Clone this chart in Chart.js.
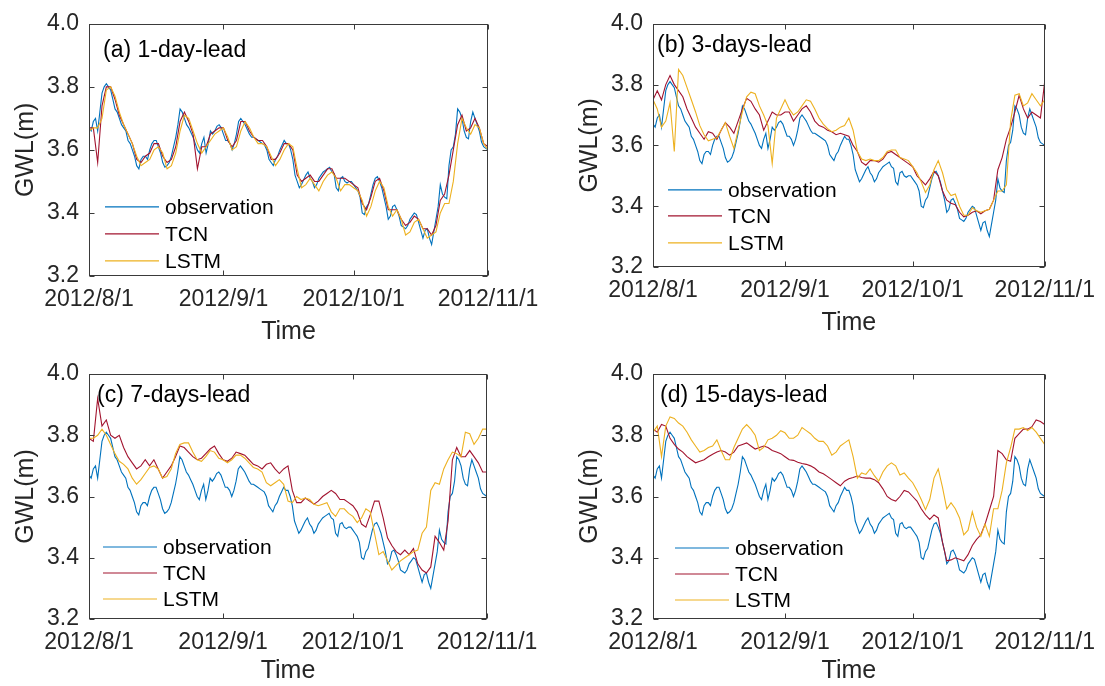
<!DOCTYPE html>
<html><head><meta charset="utf-8">
<script src="https://cdn.jsdelivr.net/npm/chart.js@4.4.1/dist/chart.umd.min.js"></script>
<style>
html,body{margin:0;padding:0;background:#fff;}
#wrap{position:relative;width:1105px;height:686px;overflow:hidden;background:#fff;}
canvas{position:absolute;}
</style></head><body><div id="wrap">
<canvas id="cA" width="552" height="347" style="left:0px;top:0px"></canvas>
<canvas id="cB" width="553" height="347" style="left:552px;top:0px"></canvas>
<canvas id="cC" width="552" height="339" style="left:0px;top:347px"></canvas>
<canvas id="cD" width="553" height="339" style="left:552px;top:347px"></canvas>
</div>
<script>
// ---- data (GWL in m, from 2012/8/1) ----
const seriesNames = ['observation', 'TCN', 'LSTM'];
const panelLabels = ['(a) 1-day-lead', '(b) 3-days-lead', '(c) 7-days-lead', '(d) 15-days-lead'];
const xTickDays = [0, 31, 61, 92];
const xTickLabels = ['2012/8/1', '2012/9/1', '2012/10/1', '2012/11/1'];
const yTicks = [3.2, 3.4, 3.6, 3.8, 4.0];

// observation: one value every half day
const obs = [3.67,3.66,3.69,3.70,3.66,3.72,3.78,3.80,3.81,3.80,3.79,3.76,3.73,3.72,3.70,3.68,3.67,3.66,3.63,3.62,
 3.60,3.58,3.55,3.54,3.57,3.58,3.58,3.57,3.60,3.62,3.63,3.63,3.61,3.59,3.56,3.545,3.55,3.56,3.58,3.61,
 3.64,3.68,3.73,3.72,3.70,3.68,3.67,3.655,3.64,3.62,3.60,3.59,3.62,3.64,3.59,3.62,3.66,3.65,3.66,3.675,
 3.68,3.67,3.65,3.63,3.63,3.62,3.60,3.62,3.65,3.69,3.70,3.69,3.68,3.665,3.65,3.64,3.64,3.635,3.63,3.625,
 3.62,3.615,3.60,3.57,3.56,3.55,3.57,3.58,3.60,3.615,3.63,3.62,3.62,3.60,3.57,3.52,3.50,3.48,3.49,3.505,
 3.52,3.53,3.51,3.50,3.48,3.49,3.51,3.52,3.53,3.535,3.54,3.545,3.53,3.525,3.48,3.47,3.51,3.515,3.50,3.495,
 3.50,3.50,3.49,3.48,3.47,3.45,3.40,3.395,3.42,3.43,3.46,3.49,3.51,3.515,3.50,3.48,3.45,3.42,3.38,3.39,
 3.42,3.425,3.41,3.39,3.36,3.355,3.35,3.36,3.38,3.39,3.40,3.395,3.37,3.345,3.32,3.345,3.35,3.32,3.30,3.34,
 3.38,3.42,3.49,3.46,3.45,3.445,3.55,3.60,3.61,3.65,3.73,3.72,3.70,3.66,3.64,3.635,3.69,3.72,3.70,3.68,
 3.66,3.625,3.61,3.605,3.60];

// forecasts: one value per day
const tcnA = [3.67,3.67,3.56,3.74,3.80,3.80,3.76,3.71,3.68,3.65,
 3.62,3.57,3.56,3.58,3.59,3.62,3.62,3.58,3.56,3.57,
 3.61,3.69,3.72,3.69,3.65,3.54,3.61,3.61,3.65,3.66,
 3.67,3.67,3.63,3.61,3.63,3.69,3.69,3.66,3.64,3.63,
 3.63,3.61,3.57,3.57,3.59,3.62,3.62,3.60,3.52,3.50,
 3.51,3.52,3.50,3.50,3.52,3.54,3.54,3.51,3.51,3.51,
 3.50,3.49,3.48,3.43,3.41,3.45,3.50,3.51,3.47,3.41,
 3.41,3.41,3.38,3.36,3.37,3.39,3.38,3.35,3.35,3.33,
 3.36,3.44,3.46,3.52,3.60,3.68,3.71,3.66,3.67,3.70,
 3.67,3.62,3.61];
const lstmA = [3.66,3.67,3.67,3.70,3.79,3.80,3.77,3.72,3.68,3.65,
 3.62,3.58,3.55,3.56,3.57,3.60,3.61,3.59,3.54,3.55,
 3.59,3.66,3.71,3.70,3.66,3.62,3.59,3.61,3.63,3.65,
 3.66,3.67,3.64,3.60,3.61,3.66,3.69,3.67,3.64,3.62,
 3.62,3.61,3.58,3.55,3.57,3.60,3.62,3.61,3.54,3.48,
 3.49,3.51,3.49,3.47,3.50,3.52,3.53,3.51,3.47,3.49,
 3.49,3.48,3.47,3.44,3.39,3.42,3.47,3.50,3.48,3.42,
 3.39,3.41,3.38,3.33,3.34,3.37,3.38,3.35,3.32,3.33,
 3.34,3.40,3.43,3.43,3.50,3.62,3.70,3.67,3.65,3.68,
 3.67,3.62,3.60];

const tcnB = [3.75,3.78,3.75,3.80,3.83,3.80,3.78,3.76,3.72,3.69,
 3.66,3.64,3.62,3.645,3.64,3.62,3.65,3.675,3.66,3.64,
 3.68,3.72,3.755,3.745,3.72,3.70,3.65,3.68,3.71,3.70,
 3.70,3.71,3.71,3.68,3.70,3.72,3.73,3.71,3.68,3.665,
 3.66,3.65,3.645,3.635,3.64,3.635,3.63,3.60,3.58,3.545,
 3.535,3.55,3.55,3.545,3.555,3.575,3.58,3.57,3.56,3.55,
 3.54,3.53,3.50,3.485,3.47,3.49,3.515,3.50,3.45,3.42,
 3.41,3.405,3.38,3.365,3.37,3.38,3.385,3.375,3.385,3.39,
 3.42,3.52,3.56,3.62,3.66,3.71,3.765,3.72,3.69,3.71,
 3.70,3.69,3.81];
const lstmB = [3.75,3.72,3.66,3.68,3.74,3.58,3.85,3.83,3.79,3.75,
 3.71,3.665,3.635,3.615,3.62,3.625,3.65,3.675,3.63,3.59,
 3.65,3.71,3.76,3.775,3.77,3.73,3.70,3.665,3.54,3.69,
 3.72,3.75,3.72,3.70,3.71,3.73,3.75,3.745,3.72,3.69,
 3.67,3.655,3.645,3.65,3.66,3.665,3.69,3.65,3.58,3.555,
 3.55,3.555,3.55,3.55,3.56,3.58,3.585,3.585,3.56,3.555,
 3.55,3.53,3.51,3.48,3.445,3.47,3.52,3.55,3.51,3.455,
 3.435,3.44,3.40,3.37,3.37,3.395,3.385,3.38,3.385,3.39,
 3.42,3.45,3.45,3.47,3.68,3.765,3.77,3.73,3.74,3.77,
 3.75,3.73,3.75];

const tcnC = [3.79,3.78,3.92,3.83,3.85,3.80,3.79,3.80,3.76,3.73,
 3.71,3.69,3.70,3.72,3.70,3.72,3.69,3.66,3.68,3.70,
 3.73,3.765,3.76,3.745,3.73,3.72,3.725,3.74,3.755,3.765,
 3.74,3.72,3.715,3.725,3.745,3.74,3.735,3.72,3.705,3.70,
 3.69,3.705,3.71,3.69,3.675,3.69,3.70,3.62,3.58,3.58,
 3.595,3.585,3.575,3.585,3.60,3.61,3.62,3.61,3.59,3.59,
 3.58,3.57,3.55,3.51,3.50,3.54,3.585,3.585,3.53,3.465,
 3.44,3.42,3.41,3.425,3.41,3.43,3.38,3.36,3.35,3.37,
 3.47,3.45,3.425,3.52,3.72,3.76,3.73,3.73,3.75,3.73,
 3.71,3.68,3.68];
const lstmC = [3.79,3.79,3.80,3.82,3.80,3.77,3.74,3.715,3.705,3.69,
 3.66,3.64,3.655,3.675,3.695,3.70,3.69,3.66,3.665,3.69,
 3.74,3.77,3.775,3.775,3.745,3.72,3.715,3.73,3.75,3.745,
 3.725,3.72,3.71,3.72,3.735,3.735,3.725,3.71,3.695,3.69,
 3.68,3.645,3.635,3.645,3.655,3.64,3.585,3.58,3.60,3.59,
 3.595,3.59,3.575,3.57,3.575,3.58,3.55,3.535,3.56,3.56,
 3.545,3.535,3.515,3.53,3.56,3.55,3.48,3.41,3.42,3.39,
 3.36,3.375,3.39,3.40,3.41,3.42,3.425,3.48,3.50,3.62,
 3.645,3.64,3.69,3.72,3.745,3.74,3.73,3.81,3.805,3.77,
 3.79,3.82,3.82];

const tcnD = [3.82,3.81,3.835,3.83,3.79,3.77,3.755,3.745,3.73,3.72,
 3.71,3.715,3.72,3.73,3.738,3.745,3.75,3.745,3.735,3.745,
 3.765,3.77,3.775,3.765,3.755,3.76,3.765,3.76,3.75,3.745,
 3.74,3.73,3.72,3.718,3.712,3.708,3.705,3.70,3.692,3.68,
 3.674,3.665,3.655,3.645,3.635,3.65,3.658,3.662,3.667,3.662,
 3.66,3.66,3.655,3.645,3.625,3.60,3.59,3.585,3.60,3.62,
 3.615,3.60,3.585,3.56,3.54,3.525,3.54,3.53,3.45,3.39,
 3.393,3.40,3.395,3.39,3.41,3.44,3.46,3.475,3.51,3.555,
 3.60,3.75,3.74,3.72,3.715,3.79,3.805,3.82,3.82,3.828,
 3.85,3.845,3.835];
const lstmD = [3.81,3.83,3.73,3.83,3.86,3.855,3.84,3.83,3.81,3.785,
 3.765,3.745,3.75,3.76,3.765,3.785,3.75,3.72,3.72,3.76,
 3.79,3.82,3.835,3.82,3.80,3.75,3.76,3.785,3.79,3.80,
 3.815,3.808,3.79,3.79,3.80,3.825,3.815,3.805,3.79,3.78,
 3.78,3.765,3.735,3.745,3.765,3.775,3.785,3.73,3.66,3.677,
 3.672,3.69,3.668,3.65,3.68,3.70,3.71,3.70,3.67,3.677,
 3.66,3.645,3.62,3.59,3.557,3.59,3.66,3.69,3.63,3.56,
 3.58,3.56,3.53,3.475,3.49,3.55,3.50,3.47,3.51,3.47,
 3.56,3.56,3.62,3.71,3.76,3.82,3.82,3.825,3.815,3.825,
 3.81,3.79,3.77];

// sample times in days since 2012/8/1
const obsDays = obs.map((_, i) => i / 2);
const days = tcnA.map((_, i) => i);

// ---- styling / layout ----
const FONT = '"Liberation Sans", Arial, Helvetica, sans-serif';
const colors = ['#0072BD', '#A2142F', '#EDB120'];
Chart.defaults.font.family = FONT;

const decor = {
  id: 'decor',
  afterDraw(chart, args, o) {
    const {ctx, chartArea: a, scales: {x, y}} = chart;
    ctx.save();
    const L = Math.round(a.left) + 0.5, R = Math.round(a.right) - 0.5;
    const T = Math.round(a.top) + 0.5, B = Math.round(a.bottom) - 0.5;
    ctx.strokeStyle = '#3a3a3a';
    ctx.lineWidth = 1;
    ctx.strokeRect(L, T, R - L, B - T);
    ctx.beginPath();
    const tl = 5;
    x.ticks.forEach(t => {
      const px = Math.round(x.getPixelForValue(t.value)) + 0.5;
      ctx.moveTo(px, B); ctx.lineTo(px, B - tl);
      ctx.moveTo(px, T); ctx.lineTo(px, T + tl);
    });
    y.ticks.forEach(t => {
      const py = Math.round(y.getPixelForValue(t.value)) + 0.5;
      ctx.moveTo(L, py); ctx.lineTo(L + tl, py);
      ctx.moveTo(R, py); ctx.lineTo(R - tl, py);
    });
    ctx.stroke();
    // panel label
    ctx.fillStyle = '#000';
    ctx.textBaseline = 'middle';
    ctx.textAlign = 'left';
    ctx.font = '23px ' + FONT;
    ctx.fillText(o.label, a.left + o.labelDx, a.top + o.labelDy);
    // legend
    ctx.font = '21px ' + FONT;
    seriesNames.forEach((name, i) => {
      const yy = a.top + o.legDy[i];
      const x0 = a.left + o.legDx;
      ctx.strokeStyle = colors[i];
      ctx.lineWidth = 1.2;
      ctx.beginPath();
      ctx.moveTo(x0, yy); ctx.lineTo(x0 + 54, yy);
      ctx.stroke();
      ctx.fillStyle = '#000';
      ctx.fillText(name, x0 + 60, yy + 1);
    });
    ctx.restore();
  }
};

const panels = [
  {id:'cA', pad:{left:0,top:20,right:64,bottom:0}, yW:89, xH:71, yTitlePad:11, tcn:tcnA, lstm:lstmA, labelDx:14, labelDy:27, legDx:16, legDy:[183,210,237]},
  {id:'cB', pad:{left:0,top:20,right:55,bottom:9}, yW:101, xH:71, yTitlePad:23, tcn:tcnB, lstm:lstmB, labelDx:4, labelDy:22, legDx:15, legDy:[166,192,219]},
  {id:'cC', pad:{left:0,top:27,right:65,bottom:0}, yW:89, xH:67, yTitlePad:11, tcn:tcnC, lstm:lstmC, labelDx:8, labelDy:22, legDx:14, legDy:[173,199,225]},
  {id:'cD', pad:{left:0,top:27,right:55,bottom:0}, yW:101, xH:67, yTitlePad:23, tcn:tcnD, lstm:lstmD, labelDx:7, labelDy:22, legDx:22, legDy:[174,200,226]}
];

const toPoints = (xs, ys) => ys.map((v, i) => ({x: xs[i], y: v}));

panels.forEach((p, k) => {
  const mk = (data, i, order) => ({
    label: seriesNames[i], data: data, borderColor: colors[i], backgroundColor: colors[i],
    borderWidth: 1.1, pointRadius: 0, pointHoverRadius: 0, tension: 0, fill: false, order: order
  });
  new Chart(document.getElementById(p.id), {
    type: 'line',
    data: {
      datasets: [
        mk(toPoints(obsDays, obs), 0, 3),
        mk(toPoints(days, p.tcn), 1, 2),
        mk(toPoints(days, p.lstm), 2, 1)
      ]
    },
    plugins: [decor],
    options: {
      responsive: false, animation: false, events: [],
      layout: {padding: p.pad},
      plugins: {
        legend: {display: false}, tooltip: {enabled: false},
        decor: {label: panelLabels[k], labelDx: p.labelDx, labelDy: p.labelDy, legDx: p.legDx, legDy: p.legDy}
      },
      scales: {
        x: {
          type: 'linear', min: 0, max: 92, offset: false,
          grid: {display: false, drawTicks: false}, border: {display: false},
          afterBuildTicks: s => { s.ticks = xTickDays.map(v => ({value: v})); },
          afterFit: s => { s.height = p.xH; },
          ticks: {
            autoSkip: false, maxRotation: 0, minRotation: 0, padding: 10,
            color: '#262626', font: {size: 23},
            callback: v => xTickLabels[xTickDays.indexOf(v)]
          },
          title: {display: true, text: 'Time', color: '#262626', font: {size: 25}, padding: {top: 0, bottom: 0}}
        },
        y: {
          type: 'linear', min: 3.2, max: 4.0,
          grid: {display: false, drawTicks: false}, border: {display: false},
          afterBuildTicks: s => { s.ticks = yTicks.map(v => ({value: v})); },
          afterFit: s => { s.width = p.yW; },
          ticks: {
            padding: 10, color: '#262626', font: {size: 23},
            callback: v => Number(v).toFixed(1)
          },
          title: {display: true, text: 'GWL(m)', color: '#262626', font: {size: 25}, padding: {top: p.yTitlePad, bottom: 0}}
        }
      }
    }
  });
});
</script>
</body></html>
